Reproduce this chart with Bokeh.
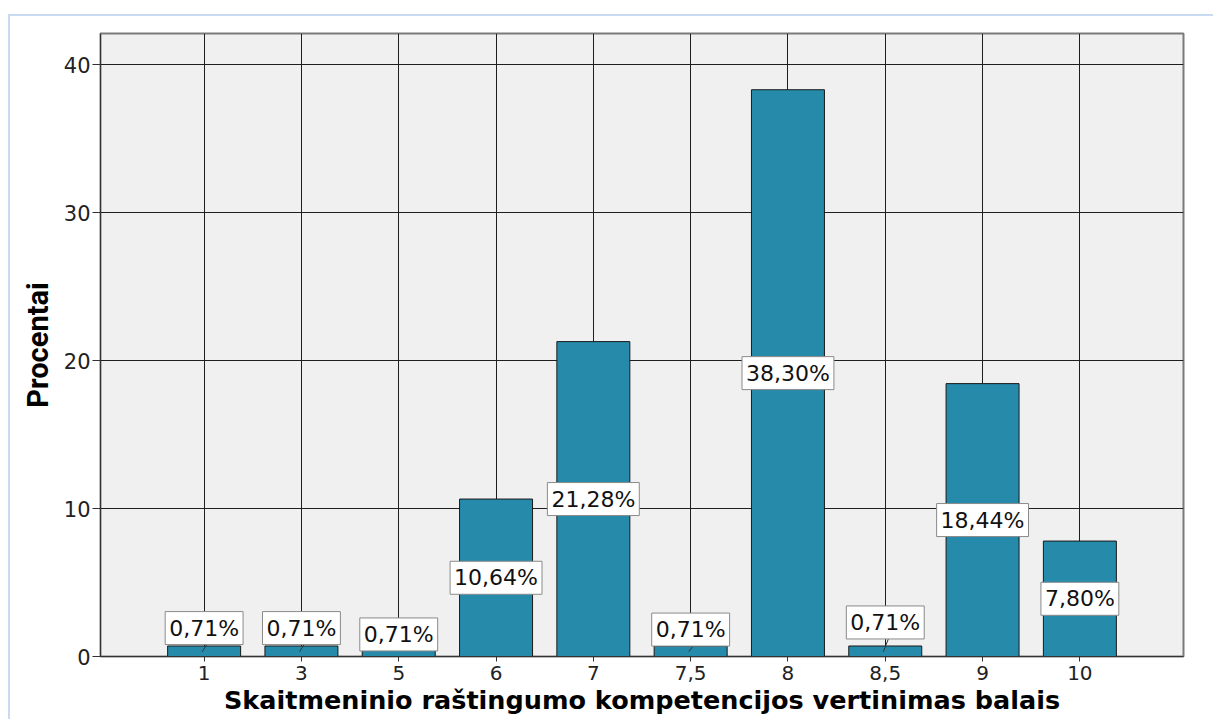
from bokeh.plotting import figure
from bokeh.models import FactorRange, Range1d, ColumnDataSource
from bokeh.embed import file_html
from bokeh.resources import INLINE
from bokeh.core.properties import value

# ---- data ----
categories = ["1", "3", "5", "6", "7", "7,5", "8", "8,5", "9", "10"]
percents = [0.71, 0.71, 0.55, 10.64, 21.28, 0.71, 38.30, 0.71, 18.44, 7.80]
bar_labels = ["0,71%", "0,71%", "0,71%", "10,64%", "21,28%", "0,71%",
              "38,30%", "0,71%", "18,44%", "7,80%"]
y_ticks = [0, 10, 20, 30, 40]

# ---- style ----
BAR = "#268AAB"
FRAME_BG = "#F0F0F0"
GRID = "#1E1E1E"
small_lift = {"1": 1.21, "3": 1.21, "5": 0.94, "7,5": 1.11, "8,5": 1.59}
leader = {"1", "3", "7,5", "8,5"}

p = figure(
    x_range=FactorRange(*categories, range_padding=0.565, range_padding_units="absolute"),
    y_range=Range1d(0, 42.1),
    width=1205, height=705,
    min_border_left=90, min_border_right=32, min_border_top=17, min_border_bottom=65,
    output_backend="svg", toolbar_location=None,
)
p.styles = {"position": "relative", "top": "14px", "left": "8px",
            "border-top": "2px solid #C9DBF1", "border-left": "2px solid #C9DBF1"}

p.background_fill_color = FRAME_BG
p.border_fill_color = "white"
p.outline_line_color = "#7A7A7A"
p.outline_line_width = 2

p.xgrid.grid_line_color = GRID
p.ygrid.grid_line_color = GRID
p.xgrid.grid_line_width = 1
p.ygrid.grid_line_width = 1
p.yaxis.ticker = y_ticks

src = ColumnDataSource(dict(x=categories, top=percents, lab=bar_labels))
p.vbar(x="x", top="top", width=0.75, source=src, fill_color=BAR,
       line_color="#1A1A1A", line_width=1)

# label positions
lx, ly, seg_x0, seg_x1, seg_y0, seg_y1 = [], [], [], [], [], []
box_half = 0.98
for c, v in zip(categories, percents):
    if c in small_lift:
        yy = v + small_lift[c]
    else:
        yy = v / 2
    lx.append(c)
    ly.append(yy)
    if c in leader:
        seg_x0.append((c, -0.02))
        seg_x1.append((c, 0.04))
        seg_y0.append(v * 0.45)
        seg_y1.append(yy - box_half)

p.segment(x0=seg_x0, y0=seg_y0, x1=seg_x1, y1=seg_y1, line_color="#333333", line_width=1)

lsrc = ColumnDataSource(dict(x=lx, y=ly, t=bar_labels))
p.text(x="x", y="y", text="t", source=lsrc, text_align="center", text_baseline="middle",
       text_font=value("DejaVu Sans"), text_font_size="22px", text_color="#111111",
       background_fill_color="white", border_line_color="#8A8A8A", border_line_width=1,
       padding=4)

for ax in (p.xaxis, p.yaxis):
    ax.axis_line_color = "#333333"
    ax.major_tick_line_color = "#333333"
    ax.major_tick_in = 0
    ax.minor_tick_line_color = None
    ax.major_label_text_font = "DejaVu Sans"
    ax.major_label_text_color = "#222222"
    ax.major_label_text_font_size = "21px"

p.yaxis.major_tick_out = 8
p.yaxis.major_label_standoff = 2
p.xaxis.major_tick_out = 5
p.xaxis.major_label_standoff = 4
p.xaxis.major_label_text_font_size = "20px"

p.xaxis.axis_label = "Skaitmeninio raštingumo kompetencijos vertinimas balais"
p.xaxis.axis_label_text_font = "DejaVu Sans"
p.xaxis.axis_label_text_font_style = "bold"
p.xaxis.axis_label_text_font_size = "25.5px"
p.xaxis.axis_label_text_color = "#000000"
p.xaxis.axis_label_standoff = 2

p.yaxis.axis_label = "Procentai"
p.yaxis.axis_label_text_font = "Roboto"
p.yaxis.axis_label_text_font_style = "bold"
p.yaxis.axis_label_text_font_size = "29px"
p.yaxis.axis_label_text_color = "#000000"
p.yaxis.axis_label_standoff = 6

open("out.html", "w").write(file_html(p, INLINE))
